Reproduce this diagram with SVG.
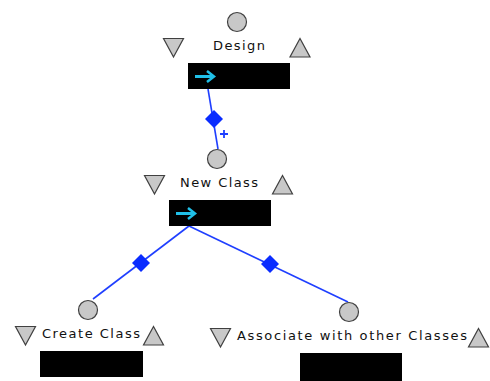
<svg xmlns="http://www.w3.org/2000/svg" width="490" height="381" viewBox="0 0 490 381">
  <style>
    .port { fill: #c8c8c8; stroke: #404040; stroke-width: 1.2; }
    .label { font-family: "DejaVu Sans", Verdana, sans-serif; font-size: 13px; fill: #111; }
    .body { fill: #000; }
    .arrow { stroke: #20c0e8; stroke-width: 3; fill: none; stroke-linecap: butt; }
    .head { stroke: #20c0e8; stroke-width: 2.5; fill: none; }
    .link { stroke: #1f3fff; stroke-width: 1.6; fill: none; }
    .diamond { fill: #0a2cff; }
  </style>
  <rect width="490" height="381" fill="#fff"/>

  <!-- connectors -->
  <g id="connectors">
    <path class="link" d="M208,89 L218,149"/>
    <path class="diamond" d="M214,110 L223,119 L214,128 L205,119 Z"/>
    <path d="M220,134 H228 M224,130 V138" stroke="#1f3fff" stroke-width="1.8"/>
    <path class="link" d="M189,226 L93,299"/>
    <path class="diamond" d="M141,254 L150,263 L141,272 L132,263 Z"/>
    <path class="link" d="M189,226 L348,302"/>
    <path class="diamond" d="M270,255 L279,264 L270,273 L261,264 Z"/>
  </g>

  <!-- Design -->
  <g id="design">
    <circle class="port" cx="237" cy="22" r="9.5"/>
    <path class="port" d="M163.5,38.5 L183.5,38.5 L173.5,57 Z"/>
    <path class="port" d="M290,57 L310,57 L300,38.5 Z"/>
    <text class="label" x="213" y="50" textLength="52" lengthAdjust="spacing">Design</text>
    <rect class="body" x="188" y="63" width="102" height="26"/>
    <path class="arrow" d="M195,76.5 H212"/>
    <path class="head" d="M207,71 L214,76.5 L207,82"/>
  </g>

  <!-- New Class -->
  <g id="new-class">
    <circle class="port" cx="217" cy="159" r="9.5"/>
    <path class="port" d="M144.5,175.5 L164.5,175.5 L154.5,194 Z"/>
    <path class="port" d="M272.5,194 L292.5,194 L282.5,175.5 Z"/>
    <text class="label" x="180" y="187" textLength="78" lengthAdjust="spacing">New Class</text>
    <rect class="body" x="169" y="200" width="102" height="26"/>
    <path class="arrow" d="M176,213.5 H193"/>
    <path class="head" d="M188,208 L195,213.5 L188,219"/>
  </g>

  <!-- Create Class -->
  <g id="create-class">
    <circle class="port" cx="88" cy="310" r="9.5"/>
    <path class="port" d="M15.5,326.5 L35.5,326.5 L25.5,345 Z"/>
    <path class="port" d="M143.5,345 L163.5,345 L153.5,326.5 Z"/>
    <text class="label" x="42" y="338" textLength="98" lengthAdjust="spacing">Create Class</text>
    <rect class="body" x="40" y="351" width="103" height="26"/>
  </g>

  <!-- Associate with other Classes -->
  <g id="associate">
    <circle class="port" cx="349" cy="312" r="9.5"/>
    <path class="port" d="M210.5,328.5 L230.5,328.5 L220.5,347 Z"/>
    <path class="port" d="M468.5,347 L488.5,347 L478.5,328.5 Z"/>
    <text class="label" x="237" y="340" textLength="230" lengthAdjust="spacing">Associate with other Classes</text>
    <rect class="body" x="300" y="353" width="102" height="28"/>
  </g>
</svg>
